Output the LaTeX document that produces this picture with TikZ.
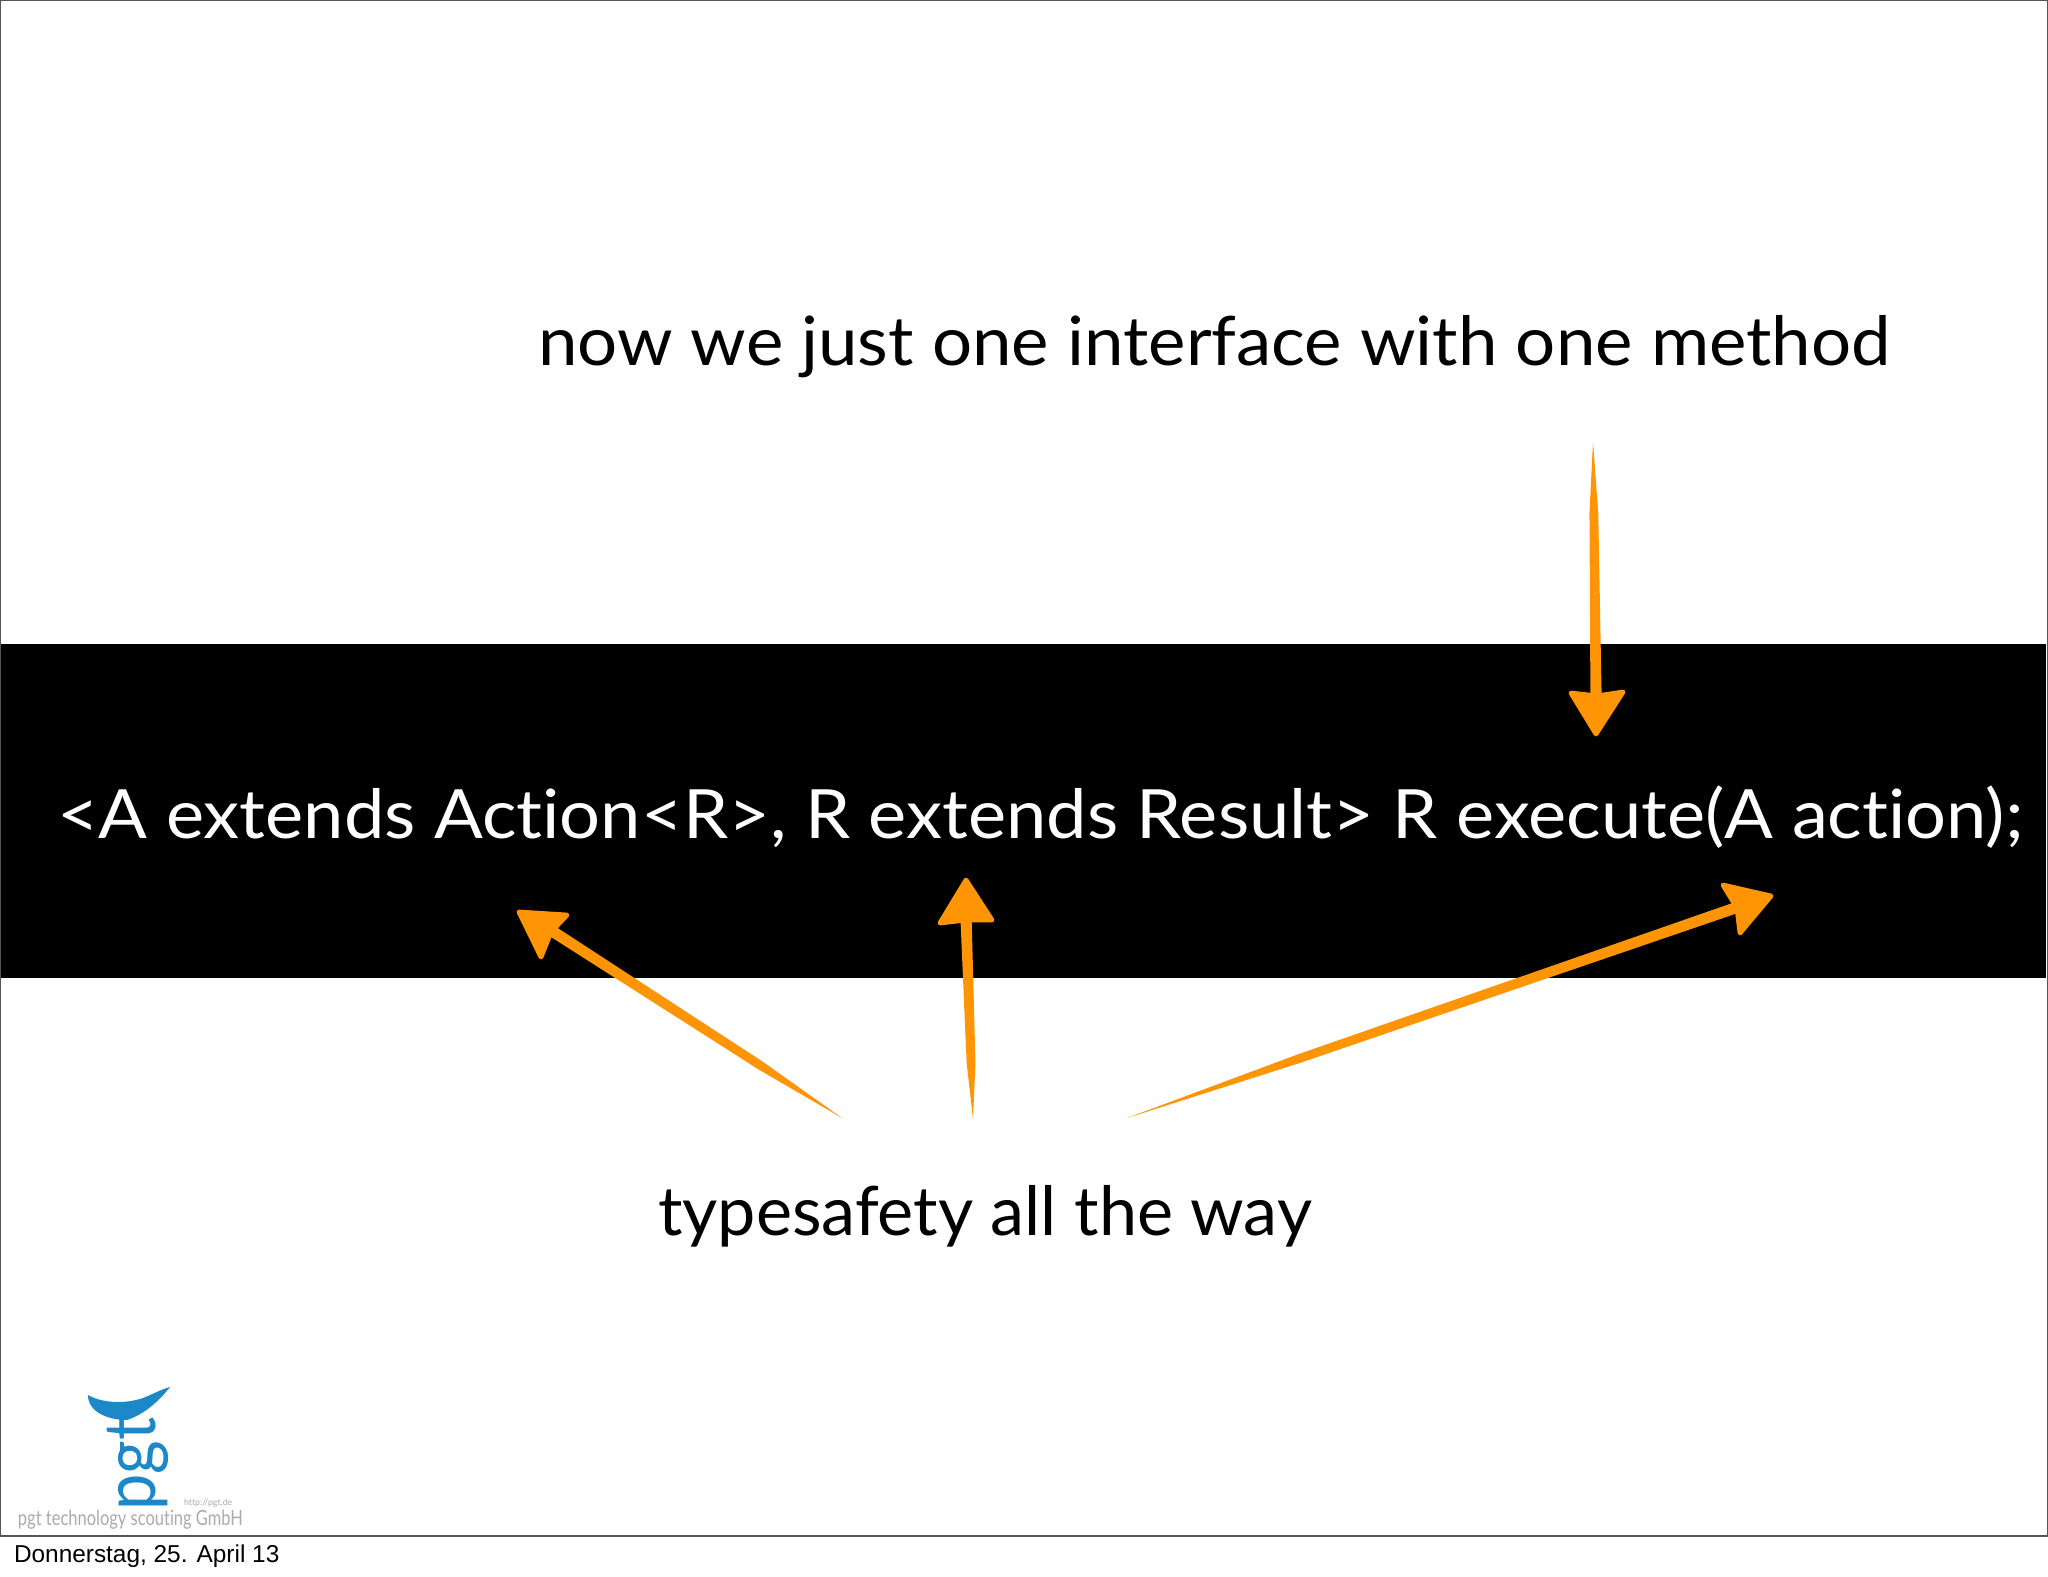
\documentclass[tikz,border=0pt]{standalone}
\usepackage{graphicx}
\usepackage{fontspec}
\setmainfont[Ligatures=NoCommon]{Lato}
\newfontfamily\helv{Liberation Sans}
\usetikzlibrary{calc}
\definecolor{arroworange}{HTML}{FF9505}
\definecolor{logoblue}{HTML}{1C88C7}
\definecolor{logogray}{HTML}{ABABAB}
\definecolor{framegray}{HTML}{555555}
\tikzset{
  headfill/.style={fill=arroworange,draw=arroworange,line width=2.4pt,line join=round},
  shaftfill/.style={fill=arroworange},
  slidetext/.style={anchor=base west,inner sep=0pt,outer sep=0pt},
}
\newcommand{\brusharrow}[1]{%
  \coordinate (#1a) at ($(#1tail)!0.28!(#1neck)$);
  \fill[shaftfill] (#1tail)
     -- ($(#1a)!2.2pt!90:(#1neck)$)
     -- ($(#1neck)!2.8pt!-90:(#1a)$)
     -- ($(#1neck)!2.8pt!90:(#1a)$)
     -- ($(#1a)!2.2pt!-90:(#1neck)$) -- cycle;
  \filldraw[headfill] (#1tip) -- (#1c1) -- (#1notch) -- (#1c2) -- cycle;
}
\begin{document}
\begin{tikzpicture}[x=0.5pt,y=-0.5pt]
\useasboundingbox (0,0) rectangle (2048,1576);
\fill[white] (0,0) rectangle (2048,1576);
% slide frame and band
\fill[black] (0,644) rectangle (2046,978);
\draw[framegray,line width=0.7pt] (0.7,0.7) rectangle (2047.3,1536);
% texts
\node[slidetext,font=\fontsize{34}{40}\selectfont] (top) at (538,365) {\scalebox{1.041}[1]{now we just one interface with one method}};
\node[slidetext,text=white,font=\fontsize{34}{40}\selectfont] (code) at (57,838.5) {\scalebox{1.062}[1]{<A extends Action<R>, R extends Result> R execute(A action);}};
\node[slidetext,font=\fontsize{34}{40}\selectfont] (safe) at (658,1235.5) {\scalebox{1.004}[1]{typesafety all the way}};
\node[slidetext,font=\helv\fontsize{12.2}{14}\selectfont] (date) at (14,1562) {Donnerstag, 25. April 13};
% arrows
\coordinate (ptail) at (1593,442); \coordinate (pneck) at (1596,695);
\coordinate (ptip) at (1596,734); \coordinate (pc1) at (1571,693); \coordinate (pc2) at (1623,692); \coordinate (pnotch) at (1597,696);
\brusharrow{p}
\coordinate (qtail) at (842,1118); \coordinate (qneck) at (552,931);
\coordinate (qtip) at (519,912); \coordinate (qc1) at (567,915); \coordinate (qc2) at (541,957); \coordinate (qnotch) at (551,932);
\brusharrow{q}
\coordinate (rtail) at (973,1119); \coordinate (rneck) at (966,918);
\coordinate (rtip) at (966,880); \coordinate (rc1) at (940,923); \coordinate (rc2) at (992,920); \coordinate (rnotch) at (966,920);
\brusharrow{r}
\coordinate (stail) at (1127,1118); \coordinate (sneck) at (1738,907);
\coordinate (stip) at (1771,896); \coordinate (sc1) at (1723,885); \coordinate (sc2) at (1740,933); \coordinate (snotch) at (1737,908);
\brusharrow{s}
% logo
\node[rotate=90,anchor=center,text=logoblue,inner sep=0pt,font=\fontsize{36}{40}\selectfont] (logo) at (138,1464) {\scalebox{0.9}[1]{pgt}};
\fill[logoblue] (88,1395) .. controls (100,1402) and (122,1405) .. (143,1398)
   .. controls (153,1394) and (162,1389) .. (170,1387)
   .. controls (160,1400) and (145,1414) .. (127,1420)
   .. controls (108,1420) and (88,1412) .. (88,1395) -- cycle;
\node[slidetext,text=logogray,font=\fontsize{10.5}{12}\selectfont] (lname) at (18,1525) {\scalebox{0.785}[1]{pgt technology scouting GmbH}};
\node[slidetext,text=logogray,font=\fontsize{4.4}{5}\selectfont] (lurl) at (184,1505) {http://pgt.de};
\end{tikzpicture}
\end{document}
